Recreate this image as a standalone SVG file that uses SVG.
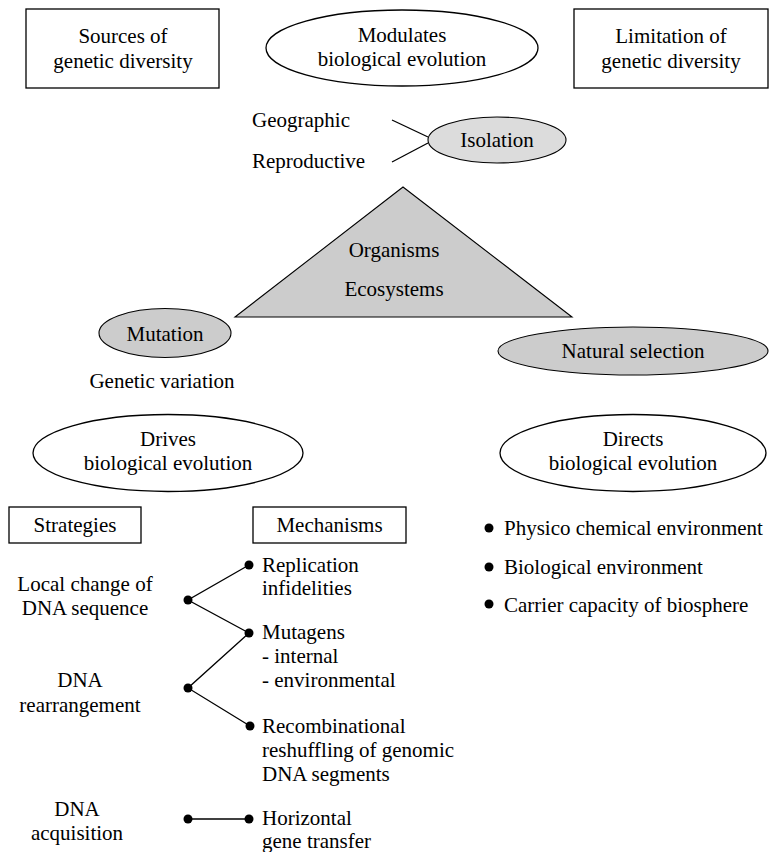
<svg xmlns="http://www.w3.org/2000/svg" width="770" height="852" viewBox="0 0 770 852">
<style>
text{font-family:'Liberation Serif','Times New Roman',Times,Tinos,'Nimbus Roman','Nimbus Roman No9 L','FreeSerif','Noto Serif','DejaVu Serif',serif;font-size:21px;fill:#000}
.c{text-anchor:middle}
.box{fill:#fff;stroke:#000;stroke-width:1.3}
.ell{fill:#fff;stroke:#000;stroke-width:1.3}
.gray{fill:#cccccc;stroke:#000;stroke-width:1.1}
.lgray{fill:#dcdcdc;stroke:#000;stroke-width:1.1}
.ln{stroke:#000;stroke-width:1.3;fill:none}
.dot{fill:#000}
</style>
<rect width="770" height="852" fill="#fff"/>
<g id="sources">
<rect class="box" x="26" y="9" width="193" height="79"/>
<text class="c" x="123" y="43">Sources of</text>
<text class="c" x="123" y="68">genetic diversity</text>
</g>
<g id="modulates">
<ellipse class="ell" cx="402" cy="48" rx="136" ry="38"/>
<text class="c" x="402" y="42">Modulates</text>
<text class="c" x="402" y="66">biological evolution</text>
</g>
<g id="limitation">
<rect class="box" x="574" y="9" width="194" height="79"/>
<text class="c" x="671" y="43">Limitation of</text>
<text class="c" x="671" y="68">genetic diversity</text>
</g>
<g id="geographic"><text x="252" y="127">Geographic</text></g>
<g id="reproductive"><text x="252" y="168">Reproductive</text></g>
<g id="isolation">
<ellipse class="lgray" cx="497" cy="140" rx="69" ry="23"/>
<text class="c" x="497" y="147">Isolation</text>
</g>
<g id="organisms">
<polygon class="gray" points="403,187 572,317 235,317"/>
<text class="c" x="394" y="257">Organisms</text>
<text class="c" x="394" y="296">Ecosystems</text>
</g>
<g id="mutation">
<ellipse class="gray" cx="165" cy="333" rx="66" ry="24.5"/>
<text class="c" x="165" y="341">Mutation</text>
</g>
<g id="natural-selection">
<ellipse class="gray" cx="633" cy="351" rx="135" ry="24"/>
<text class="c" x="633" y="358">Natural selection</text>
</g>
<g id="genetic-variation"><text class="c" x="162" y="388">Genetic variation</text></g>
<g id="drives">
<ellipse class="ell" cx="168" cy="453" rx="135" ry="38.5"/>
<text class="c" x="168" y="446">Drives</text>
<text class="c" x="168" y="470">biological evolution</text>
</g>
<g id="directs">
<ellipse class="ell" cx="633" cy="453" rx="133" ry="38.5"/>
<text class="c" x="633" y="446">Directs</text>
<text class="c" x="633" y="470">biological evolution</text>
</g>
<g id="strategies">
<rect class="box" x="9" y="507" width="132" height="36"/>
<text class="c" x="75" y="532">Strategies</text>
</g>
<g id="mechanisms">
<rect class="box" x="253" y="507" width="153" height="36"/>
<text class="c" x="329.5" y="532">Mechanisms</text>
</g>
<g id="factors">
<circle class="dot" cx="489" cy="528" r="4.5"/>
<text x="504" y="535">Physico chemical environment</text>
<circle class="dot" cx="489" cy="567" r="4.5"/>
<text x="504" y="574">Biological environment</text>
<circle class="dot" cx="489" cy="604" r="4.5"/>
<text x="504" y="612">Carrier capacity of biosphere</text>
</g>
<g id="local-change">
<text class="c" x="85" y="591">Local change of</text>
<text class="c" x="85" y="615">DNA sequence</text>
</g>
<g id="dna-rearrangement">
<text class="c" x="80" y="687">DNA</text>
<text class="c" x="80" y="712">rearrangement</text>
</g>
<g id="dna-acquisition">
<text class="c" x="77" y="816">DNA</text>
<text class="c" x="77" y="840">acquisition</text>
</g>
<g id="replication">
<text x="262" y="572">Replication</text>
<text x="262" y="595">infidelities</text>
</g>
<g id="mutagens">
<text x="262" y="639">Mutagens</text>
<text x="262" y="663">- internal</text>
<text x="262" y="687">- environmental</text>
</g>
<g id="recombinational">
<text x="262" y="733">Recombinational</text>
<text x="262" y="757">reshuffling of genomic</text>
<text x="262" y="781">DNA segments</text>
</g>
<g id="horizontal">
<text x="262" y="825">Horizontal</text>
<text x="262" y="848">gene transfer</text>
</g>
<g id="connectors">
<line class="ln" x1="392" y1="120" x2="428" y2="137"/>
<line class="ln" x1="392" y1="162" x2="428" y2="143"/>
<polyline class="ln" points="249,565 188,600 249,633"/>
<polyline class="ln" points="249,633 188,688 250,726"/>
<line class="ln" x1="188" y1="819" x2="249" y2="819"/>
<circle class="dot" cx="188" cy="600" r="4.5"/>
<circle class="dot" cx="249" cy="565" r="4.5"/>
<circle class="dot" cx="249" cy="633" r="4.5"/>
<circle class="dot" cx="188" cy="688" r="4.5"/>
<circle class="dot" cx="250" cy="726" r="4.5"/>
<circle class="dot" cx="188" cy="819" r="4.5"/>
<circle class="dot" cx="249" cy="819" r="4.5"/>
</g>
</svg>
